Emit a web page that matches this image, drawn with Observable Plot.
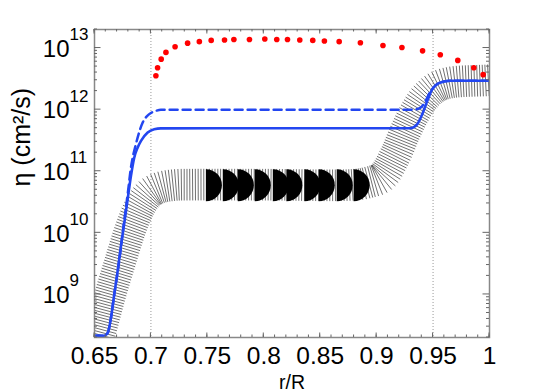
<!DOCTYPE html>
<html><head><meta charset="utf-8">
<script src="https://cdn.jsdelivr.net/npm/d3@7"></script>
<script src="https://cdn.jsdelivr.net/npm/@observablehq/plot@0.6"></script>
<style>body{margin:0;background:#fff;} svg{font-family:"Liberation Sans",Arial,Helvetica,sans-serif;}</style>
</head><body><div id="chart"></div>
<script>
// ---- data ----
const redX = [0.7044,0.7059,0.7091,0.7133,0.7214,0.7325,0.7429,0.7534,0.7652,0.7735,0.7873,0.8009,0.8115,0.8210,0.8319,0.8434,0.8537,0.8668,0.8856,0.9056,0.9224,0.9407,0.9564,0.9719,0.9861,0.9944];
const redY = [3.55e12,4.8e12,6.6e12,8.5e12,1.05e13,1.2e13,1.27e13,1.33e13,1.35e13,1.38e13,1.38e13,1.40e13,1.38e13,1.38e13,1.35e13,1.33e13,1.30e13,1.27e13,1.22e13,1.10e13,1.02e13,9.0e12,7.8e12,6.3e12,4.8e12,3.7e12];

const solidX = [0.65,0.6584,0.6617,0.6646,0.6675,0.6705,0.6728,0.6764,0.6794,0.6823,0.6852,0.6881,0.6912,0.6971,0.7029,0.7088,0.8,0.9301,0.936,0.9404,0.9449,0.9493,0.9537,0.9596,0.9655,1.0];
const solidY = [2.14e8,2.14e8,2.38e8,4.17e8,1.0e9,2.39e9,5.06e9,1.44e10,3.55e10,8.39e10,1.66e11,2.39e11,3.11e11,4.25e11,4.82e11,4.97e11,5.0e11,5.0e11,5.81e11,8.45e11,1.39e12,2.15e12,2.6e12,2.86e12,2.94e12,2.94e12];

const dashX = [0.65,0.6584,0.6617,0.6646,0.6675,0.6719,0.6755,0.6794,0.6823,0.6867,0.6927,0.6985,0.7044,0.7088,0.8,0.933,0.9389,0.9434,0.9463,0.9493,0.9537,0.9596,0.9655,1.0];
const dashY = [2.14e8,2.14e8,2.38e8,4.17e8,1.0e9,3.48e9,1.21e10,4.23e10,1.15e11,2.75e11,6.17e11,8.45e11,9.55e11,1.0e12,1.0e12,1.0e12,1.08e12,1.39e12,1.79e12,2.15e12,2.6e12,2.86e12,2.94e12,2.94e12];

const bandX = [0.6522,0.6558,0.6646,0.6735,0.6829,0.6912,0.70,0.7088,0.7221,0.7354,0.8,0.8814,0.8929,0.905,0.9168,0.9257,0.9345,0.9434,0.9537,0.9655,1.0];
const bandY = [1.45e8,2.51e8,1.0e9,3.48e9,1.21e10,2.73e10,4.44e10,5.35e10,5.87e10,5.94e10,5.94e10,5.94e10,6.46e10,7.87e10,1.77e11,4.25e11,8.97e11,1.57e12,2.29e12,2.70e12,2.94e12];

const capX = [0.7487,0.7637,0.777,0.792,0.808,0.820,0.836,0.8487,0.8646,0.8796];
const capY = [5.94e10,5.94e10,5.94e10,5.94e10,5.94e10,5.94e10,5.94e10,5.94e10,5.94e10,5.94e10];

const gridX = [0.7, 0.95];
const xTicks = [0.65,0.7,0.75,0.8,0.85,0.9,0.95,1.0];
const xTickLabels = ["0.65","0.7","0.75","0.8","0.85","0.9","0.95","1"];
const xMinor = d3.range(65, 101).map(i => i / 100);
const yTicks = [1e9,1e10,1e11,1e12,1e13];
const yExponents = ["9","10","11","12","13"];
const yMinor = [];
for (let e = 8; e <= 13; e++) for (let k = 2; k <= 9; k++) { const v = k * Math.pow(10, e); if (v >= 2e8 && v <= 2e13) yMinor.push(v); }

const BLUE = "#2346f0";

// ---- helpers ----
const svgNS = "http://www.w3.org/2000/svg";
function crPoint(p0,p1,p2,p3,t){
  const a=0.5;
  const d=(u,v)=>Math.max(Math.pow(Math.hypot(v[0]-u[0],v[1]-u[1]),a),1e-6);
  const t0=0,t1=t0+d(p0,p1),t2=t1+d(p1,p2),t3=t2+d(p2,p3);
  const tt=t1+(t2-t1)*t;
  const lerp=(A,B,ta,tb)=>[(tb-tt)/(tb-ta)*A[0]+(tt-ta)/(tb-ta)*B[0],(tb-tt)/(tb-ta)*A[1]+(tt-ta)/(tb-ta)*B[1]];
  const A1=lerp(p0,p1,t0,t1),A2=lerp(p1,p2,t1,t2),A3=lerp(p2,p3,t2,t3);
  const B1=lerp(A1,A2,t0,t2),B2=lerp(A2,A3,t1,t3);
  return lerp(B1,B2,t1,t2);
}

// hatched band: segments perpendicular to the band centre curve
function hatchBand(index, scales, values, dim) {
  const {x, y} = scales;
  const pts = bandX.map((v,i)=>[x(v), y(bandY[i])]);
  const n = pts.length;
  const ext = (a,b)=>[2*a[0]-b[0],2*a[1]-b[1]];
  const dense = [];
  for (let i=0;i<n-1;i++){
    const p0 = i>0?pts[i-1]:ext(pts[0],pts[1]);
    const p3 = i<n-2?pts[i+2]:ext(pts[n-1],pts[n-2]);
    for (let s=0;s<40;s++) dense.push(crPoint(p0,pts[i],pts[i+1],p3,s/40));
  }
  dense.push(pts[n-1]);
  const cum=[0];
  for (let i=1;i<dense.length;i++) cum.push(cum[i-1]+Math.hypot(dense[i][0]-dense[i-1][0],dense[i][1]-dense[i-1][1]));
  const total = cum[cum.length-1];
  const at = (s)=>{ s=Math.max(0,Math.min(total,s)); let lo=0,hi=cum.length-1; while(hi-lo>1){const m=(lo+hi)>>1; if(cum[m]<=s) lo=m; else hi=m;} const f=(s-cum[lo])/((cum[hi]-cum[lo])||1); return [dense[lo][0]+f*(dense[hi][0]-dense[lo][0]), dense[lo][1]+f*(dense[hi][1]-dense[lo][1])]; };
  const step = 2.8, half = 15.8;
  let d = "";
  for (let s=0;s<=total;s+=step){
    const p=at(s), a=at(s-2), b=at(s+2);
    let tx=b[0]-a[0], ty=b[1]-a[1]; const L=Math.hypot(tx,ty)||1; tx/=L; ty/=L;
    const nx=-ty, ny=tx;
    d += `M${(p[0]-nx*half).toFixed(2)},${(p[1]-ny*half).toFixed(2)}L${(p[0]+nx*half).toFixed(2)},${(p[1]+ny*half).toFixed(2)}`;
  }
  const g = document.createElementNS(svgNS,"g");
  const cp = document.createElementNS(svgNS,"clipPath");
  const id = "bandclip"+Math.random().toString(36).slice(2);
  cp.setAttribute("id", id);
  const r = document.createElementNS(svgNS,"rect");
  r.setAttribute("x", dim.marginLeft); r.setAttribute("y", dim.marginTop);
  r.setAttribute("width", dim.width-dim.marginLeft-dim.marginRight);
  r.setAttribute("height", dim.height-dim.marginTop-dim.marginBottom);
  cp.appendChild(r); g.appendChild(cp);
  const path = document.createElementNS(svgNS,"path");
  path.setAttribute("d", d); path.setAttribute("stroke","#222"); path.setAttribute("stroke-width","0.65");
  path.setAttribute("fill","none"); path.setAttribute("clip-path",`url(#${id})`);
  g.appendChild(path);
  return g;
}

// inward ticks on all four sides
function frameTicks(index, scales, values, dim) {
  const {x, y} = scales;
  const L = dim.marginLeft, R = dim.width - dim.marginRight, T = dim.marginTop, B = dim.height - dim.marginBottom;
  let d = "";
  for (const v of xMinor) { const px = x(v); d += `M${px},${B}v-2.5M${px},${T}v2.5`; }
  for (const v of xTicks) { const px = x(v); d += `M${px},${B}v-4.5M${px},${T}v4.5`; }
  for (const v of yMinor) { const py = y(v); d += `M${L},${py}h3M${R},${py}h-3`; }
  for (const v of yTicks) { const py = y(v); d += `M${L},${py}h6.5M${R},${py}h-6.5`; }
  const p = document.createElementNS(svgNS,"path");
  p.setAttribute("d", d); p.setAttribute("stroke","#666"); p.setAttribute("stroke-width","1"); p.setAttribute("fill","none");
  return p;
}

const halfDisk = { draw(context, size) { const r = Math.sqrt(size / Math.PI); context.moveTo(0, -r); context.arc(0, 0, r, -Math.PI/2, Math.PI/2); context.closePath(); } };

const red = redX.map((v,i)=>({x:v, y:redY[i]}));
const solid = solidX.map((v,i)=>({x:v, y:solidY[i]}));
const dash = dashX.map((v,i)=>({x:v, y:dashY[i]}));
const caps = capX.map((v,i)=>({x:v, y:capY[i]}));

const chart = Plot.plot({
  width: 540, height: 391,
  marginLeft: 94, marginRight: 51, marginTop: 29, marginBottom: 54,
  style: {fontFamily: '"Liberation Sans", Arial, Helvetica, sans-serif', background: "#fff"},
  x: {domain: [0.65, 1.0], axis: null},
  y: {type: "log", domain: [2e8, 2e13], axis: null},
  marks: [
    Plot.ruleX(gridX, {x: d => d, stroke: "#999", strokeWidth: 1, strokeDasharray: "1,2"}),
    hatchBand,
    Plot.dot(caps, {x: "x", y: "y", r: 16, symbol: halfDisk, fill: "#000", stroke: "none"}),
    Plot.line(dash, {x: "x", y: "y", stroke: BLUE, strokeWidth: 2.5, strokeDasharray: "8,5", curve: "monotone-x", clip: true}),
    Plot.line(solid, {x: "x", y: "y", stroke: BLUE, strokeWidth: 2.6, curve: "monotone-x", clip: true}),
    Plot.dot(red, {x: "x", y: "y", r: 2.8, fill: "#ff0000", stroke: "none"}),
    Plot.frame({stroke: "#888", strokeWidth: 1.5}),
    frameTicks,
    Plot.text(xTicks, {x: d => d, frameAnchor: "bottom", text: (d, i) => xTickLabels[i], lineAnchor: "top", dy: 9, fontSize: 24.5, fill: "#000"}),
    Plot.text(yTicks, {y: d => d, frameAnchor: "left", text: () => "10", textAnchor: "end", dx: -25, dy: 1, fontSize: 24, fill: "#000"}),
    Plot.text(yTicks, {y: d => d, frameAnchor: "left", text: (d, i) => yExponents[i], textAnchor: "start", dx: -25, dy: -13.5, fontSize: 17, fill: "#000"}),
    Plot.text(["r/R"], {frameAnchor: "bottom", text: d => d, lineAnchor: "bottom", dy: 51, fontSize: 19.5, fill: "#000"}),
    Plot.text(["η (cm²/s)"], {frameAnchor: "left", text: d => d, rotate: -90, dx: -73, dy: 3, fontSize: 25, fill: "#000"})
  ]
});
document.getElementById("chart").appendChild(chart);
</script>
</body></html>
